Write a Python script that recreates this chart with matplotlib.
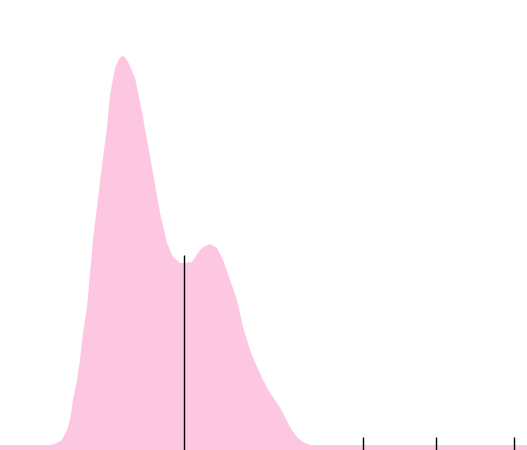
import matplotlib
matplotlib.use("Agg")
import matplotlib.pyplot as plt

# density outline (x position, height above bottom)
xs = [0, 50, 55, 62, 67, 70, 73, 77, 80, 83, 87, 93, 100, 104, 107, 110, 115,
      119, 122, 125, 128, 135, 142, 147, 153, 160, 167, 173, 180, 185, 192,
      200, 205, 210, 217, 223, 230, 237, 243, 250, 257, 263, 270, 277, 283,
      290, 297, 303, 310, 527]
dens = [5, 5, 6, 10, 20, 30, 50, 70, 90, 117, 143, 210, 268, 300, 322, 355,
        382, 391, 394, 393, 388, 372, 338, 310, 277, 237, 207, 193, 187, 187,
        188, 200, 204, 206, 202, 190, 170, 150, 123, 100, 83, 70, 57, 47, 37,
        23, 13, 8, 5, 5]

mark_x = 184
mark_top = 195
ticks_x = [363, 436, 514]
tick_len = 13

fig = plt.figure(figsize=(5.27, 4.5), dpi=100)
ax = fig.add_axes([0, 0, 1, 1])
ax.fill_between(xs, 0, dens, color="#fdc6e1", linewidth=0)
ax.vlines(mark_x, 0, mark_top, color="black", linewidth=1)
ax.vlines(ticks_x, 0, tick_len, color="black", linewidth=1)
ax.set_xlim(0, 527)
ax.set_ylim(0, 450)
ax.axis("off")
fig.savefig("out.png", dpi=100)
